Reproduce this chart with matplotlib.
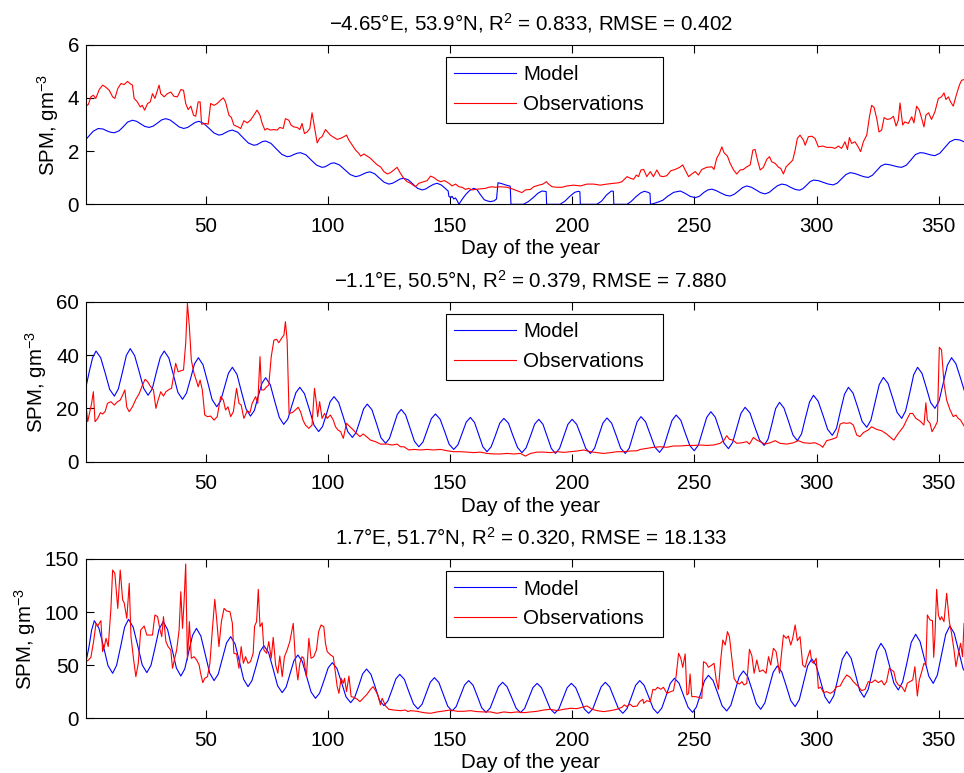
import matplotlib
matplotlib.use("Agg")
import matplotlib.pyplot as plt

plt.rcParams["font.family"] = ["Liberation Sans", "DejaVu Sans"]
plt.rcParams["mathtext.fontset"] = "custom"
plt.rcParams["mathtext.rm"] = "Liberation Sans"
plt.rcParams["mathtext.it"] = "Liberation Sans:italic"
plt.rcParams["axes.unicode_minus"] = True

FS = 14.8

# ---------------- station 1 (-4.65E, 53.9N) ----------------
model1 = [(1,2.44),(2.5,2.6),(4,2.75),(6,2.85),(8,2.83),(9.3,2.77),(11,2.71),(12.6,2.69),(14.5,2.76),(16.3,2.92),(18,3.09),(20,3.16),(21.7,3.12),(23.4,3.02),(25,2.93),(26.8,2.89),(28.5,2.94),(30.2,3.05),(31.9,3.17),(33.6,3.22),(35.4,3.17),(37.3,3.04),(39.1,2.91),(41,2.85),(42.6,2.89),(44.1,2.98),(45.7,3.08),(47.2,3.12),(49.2,3.04),(51.3,2.86),(53.4,2.68),(55.4,2.6),(56.8,2.63),(58.2,2.7),(59.5,2.76),(60.9,2.79),(63.1,2.71),(65.3,2.5),(67.5,2.3),(69.7,2.22),(70.9,2.24),(72.1,2.3),(73.3,2.36),(74.5,2.38),(76.7,2.29),(78.9,2.08),(81.1,1.88),(83.3,1.79),(84.7,1.81),(86,1.87),(87.4,1.92),(88.8,1.94),(91,1.86),(93.2,1.66),(95.4,1.47),(97.6,1.39),(98.8,1.41),(100,1.47),(101.3,1.54),(102.5,1.56),(104.7,1.48),(106.9,1.3),(109.1,1.12),(111.3,1.04),(112.8,1.07),(114.2,1.13),(115.7,1.19),(117.2,1.22),(119.1,1.15),(121,0.99),(123,0.83),(124.9,0.76),(126.4,0.79),(128,0.87),(129.5,0.95),(131,0.98),(132.9,0.92),(134.8,0.76),(136.7,0.6),(138.6,0.54),(140.1,0.58),(141.6,0.67),(143.2,0.75),(144.7,0.79),(146.5,0.72),(148,0.6),(149.2,0.5),(149.5,0.3),(150.2,0.25),(150.8,0.3),(151.5,0.2),(152.2,0.24),(153,0.12),(153.6,0.0),(155,0.2),(156.5,0.38),(158,0.52),(159.7,0.6),(161,0.55),(162.5,0.35),(164,0.17),(165.5,0.12),(166.5,0.1),(168,0.13),(169,0.2),(169.6,0.81),(171,0.78),(173,0.72),(174.6,0.68),(174.9,0.0),(180,0.0),(182,0.1),(184,0.25),(186,0.42),(187.6,0.5),(189.3,0.48),(189.5,0.0),(195,0.0),(197,0.12),(199,0.3),(201,0.45),(202.5,0.49),(203.1,0.47),(203.3,0.0),(210,0.0),(212,0.12),(214,0.35),(216,0.5),(216.8,0.49),(217,0.0),(222.4,0.0),(224,0.1),(226,0.28),(228,0.43),(229.5,0.49),(231,0.45),(231.8,0.41),(232,0.0),(233,0.02),(235,0.08),(237,0.15),(239,0.3),(241.5,0.45),(244.2,0.5),(246,0.42),(248.2,0.3),(250.3,0.25),(252,0.3),(253.9,0.45),(255.5,0.54),(257.1,0.57),(259,0.51),(260.9,0.42),(262.8,0.34),(264.6,0.31),(266.3,0.38),(268,0.5),(269.7,0.63),(271.4,0.69),(273.3,0.64),(275.2,0.54),(277,0.44),(278.9,0.39),(280.6,0.45),(282.3,0.58),(284,0.7),(285.7,0.76),(287.5,0.73),(289.3,0.64),(291.2,0.56),(293,0.53),(294.4,0.59),(295.9,0.72),(297.3,0.85),(298.7,0.91),(300.7,0.89),(302.8,0.82),(304.8,0.76),(306.8,0.73),(308.5,0.8),(310.2,0.96),(312,1.12),(313.7,1.19),(315.5,1.16),(317.4,1.1),(319.2,1.04),(321.1,1.01),(322.8,1.09),(324.5,1.26),(326.3,1.44),(328,1.51),(329.7,1.49),(331.4,1.45),(333.1,1.41),(334.8,1.39),(336.7,1.47),(338.6,1.67),(340.4,1.87),(342.3,1.94),(343.8,1.93),(345.4,1.89),(346.9,1.85),(348.4,1.83),(350.4,1.92),(352.5,2.14),(354.5,2.35),(356.6,2.44),(358.5,2.42),(360.3,2.35),(362,2.3),(365,2.36)]

obs1 = [(1,3.69),(2,3.76),(3,4.04),(4,4.1),(5,3.98),(6.4,4.31),(7.8,4.48),(9,4.41),(10.5,4.29),(11.9,4.04),(12.8,3.98),(14,4.35),(15.3,4.54),(16.6,4.5),(18,4.62),(19,4.54),(20,4.48),(20.7,3.98),(22,3.85),(23.2,3.66),(24,3.72),(25,3.54),(26.2,3.79),(27.3,3.85),(28.2,4.16),(29.2,3.98),(30,4.22),(30.9,4.48),(31.6,4.16),(33,4.04),(34.3,4.16),(35.7,4.22),(37,4.06),(38.4,4.04),(39.8,4.31),(40.9,4.29),(41.8,3.79),(42.8,3.56),(43.9,3.69),(45,3.35),(45.9,3.31),(46.9,3.85),(47.7,3.85),(48.3,3.01),(50,3.04),(51,3.01),(52,3.79),(53.4,3.72),(54.7,3.79),(56,3.91),(57.2,4.0),(58.1,3.85),(59.5,3.35),(60.5,3.26),(61.5,2.98),(63.2,2.91),(64.3,2.85),(65.6,3.14),(67,3.06),(68.3,3.16),(69.7,3.35),(71,3.54),(72.2,3.35),(73.1,3.04),(74.2,2.79),(75.1,2.85),(76.5,2.79),(77.9,2.81),(79.2,2.79),(80.3,2.89),(81.7,2.85),(82.6,3.22),(84,3.16),(84.9,2.98),(86,2.91),(87.4,2.89),(88.5,2.81),(89.4,3.04),(90.4,2.66),(91.5,2.72),(92.6,2.85),(93.5,3.44),(94.5,2.91),(95.6,2.31),(96.6,2.48),(97.6,2.54),(99,2.81),(101,2.6),(102.5,2.51),(103.8,2.44),(105.2,2.48),(106.5,2.54),(107.6,2.6),(108.6,2.41),(110,2.22),(111.3,2.04),(112.7,1.91),(113.4,1.81),(114.7,1.89),(116.1,1.81),(117.4,1.73),(118.8,1.6),(120.2,1.48),(121.5,1.41),(122.9,1.23),(124.3,1.14),(125.6,1.19),(127,1.29),(128.3,1.39),(129.7,1.16),(131,0.98),(132.4,0.85),(133.8,0.79),(135.8,0.66),(137.2,0.79),(139.2,0.85),(140.6,0.89),(142,1.06),(143.3,1.01),(144.7,0.91),(146.1,0.85),(147.7,0.89),(149.5,0.79),(150.8,0.69),(152.2,0.76),(153.6,0.66),(154.9,0.64),(156.3,0.56),(157.6,0.6),(159,0.54),(160.4,0.56),(162.4,0.58),(164.5,0.6),(165.8,0.64),(167.2,0.66),(168.5,0.64),(170.6,0.66),(173.3,0.64),(175.4,0.58),(177.4,0.51),(179.4,0.44),(180.8,0.54),(182.9,0.56),(184.2,0.66),(186.3,0.72),(188,0.76),(189.4,0.85),(190.3,0.76),(191.7,0.66),(193.8,0.64),(195.8,0.64),(197.8,0.69),(200.6,0.72),(203.3,0.69),(206,0.76),(208.7,0.76),(211.5,0.72),(214.2,0.76),(216.9,0.79),(219,0.81),(220.3,0.85),(221.3,0.94),(222.4,1.04),(223.7,0.98),(225.1,0.94),(226.2,1.1),(227.1,1.04),(228.1,1.29),(229.2,1.31),(230.5,1.04),(231.9,1.23),(233.2,1.04),(234.6,1.29),(236,1.06),(237.3,1.04),(238.7,1.08),(240.3,1.26),(242.1,1.31),(243.9,1.39),(245.2,1.48),(246.2,1.29),(247.6,1.04),(248.9,1.14),(250.3,1.23),(251.6,1.1),(253,1.31),(255,1.39),(257.1,1.41),(258,1.31),(259.1,1.73),(260.2,1.91),(261.2,2.16),(262.1,1.94),(263.5,1.81),(264.6,1.54),(266,1.29),(267.3,1.14),(268.7,1.29),(270,1.31),(271.4,1.41),(272.8,1.48),(273.9,2.04),(274.8,2.06),(275.8,1.66),(276.9,1.29),(278.2,1.39),(279.6,1.69),(280.7,1.79),(281.6,1.6),(283,1.54),(284.4,1.39),(285.3,1.35),(286.4,1.14),(287.5,1.41),(288.9,1.54),(290.2,1.66),(291.2,2.04),(292.1,2.48),(293.2,2.6),(294.6,2.41),(295.3,2.22),(296.6,2.54),(298,2.56),(299.3,2.48),(300.7,2.16),(302.5,2.19),(304.1,2.14),(306.2,2.14),(307.5,2.1),(308.9,2.19),(310.2,2.1),(311.6,2.35),(312.6,2.06),(313.4,2.51),(314.3,2.29),(315.7,2.35),(317.1,2.14),(318,1.98),(319.1,2.35),(320.5,2.6),(321.6,3.29),(322.5,3.72),(323.5,3.64),(324.6,3.22),(325.5,2.72),(326.6,2.79),(327.6,3.26),(328.9,3.19),(330.3,3.22),(331.4,3.31),(332.5,2.94),(333.4,3.16),(334.1,3.81),(335.2,2.98),(336.1,3.1),(337.5,3.04),(338.9,3.29),(339.8,3.06),(340.9,3.69),(342,3.54),(343,3.22),(343.9,2.91),(344.7,3.35),(345.8,3.44),(347,3.19),(348.4,3.48),(349.8,3.98),(351.1,4.04),(352.1,4.19),(352.9,3.94),(353.9,4.04),(354.8,3.85),(355.9,3.69),(357,4.06),(358.4,4.48),(359.3,4.66),(360.3,4.69),(362,4.7),(365,4.75)]

# ---------------- station 2 (-1.1E, 50.5N) ----------------
model2 = [(1,28.1),(2.4,34),(3.7,39),(5.1,41.5),(7,39),(8.9,33.1),(10.7,27.1),(12.6,24.6),(14.2,27.2),(15.9,33.5),(17.5,39.8),(19.1,42.4),(20.9,39.8),(22.8,33.65),(24.6,27.5),(26.4,24.9),(28.1,27.3),(29.7,33.2),(31.4,39.1),(33,41.5),(34.9,38.9),(36.8,32.45),(38.6,26),(40.5,23.4),(42.1,25.7),(43.8,31.2),(45.4,36.7),(47,39),(48.9,36.3),(50.8,29.8),(52.6,23.3),(54.5,20.6),(56.1,22.8),(57.7,28),(59.3,33.2),(60.9,35.4),(62.8,32.7),(64.6,26.25),(66.5,19.8),(68.3,17.1),(69.9,19.2),(71.4,24.3),(73,29.4),(74.5,31.5),(76.4,28.9),(78.2,22.75),(80.1,16.6),(81.9,14),(83.6,16),(85.2,20.95),(86.9,25.9),(88.5,27.9),(90.4,25.5),(92.4,19.6),(94.3,13.7),(96.2,11.3),(97.8,13.2),(99.4,17.85),(100.9,22.5),(102.5,24.4),(104.4,22.2),(106.3,16.75),(108.1,11.3),(110,9.1),(111.5,10.9),(113.1,15.35),(114.6,19.8),(116.1,21.6),(118,19.5),(119.9,14.25),(121.7,9),(123.6,6.9),(125.2,8.75),(126.8,13.25),(128.4,17.75),(130,19.6),(131.8,17.55),(133.6,12.6),(135.4,7.65),(137.2,5.6),(138.9,7.4),(140.6,11.75),(142.3,16.1),(144,17.9),(145.9,15.95),(147.8,11.25),(149.6,6.55),(151.5,4.6),(153.2,6.35),(154.9,10.6),(156.6,14.85),(158.3,16.6),(160,14.7),(161.7,10.2),(163.4,5.6),(165.1,3.75),(166.8,5.6),(168.6,10),(170.3,14.4),(172,16.25),(173.9,14.4),(175.7,9.8),(177.6,5.3),(179.4,3.4),(181.1,5.2),(182.9,9.65),(184.6,14.1),(186.3,15.9),(188,14),(189.7,9.5),(191.4,5),(193.1,3.1),(194.8,5),(196.5,9.5),(198.2,14),(199.9,15.9),(201.8,14),(203.7,9.5),(205.5,5),(207.4,3.1),(209.1,5.05),(210.8,9.75),(212.5,14.45),(214.2,16.4),(216.1,14.45),(218,9.75),(219.8,5.05),(221.7,3.1),(223.3,5.1),(224.9,10),(226.5,14.9),(228.1,16.9),(230,14.95),(231.9,10.2),(233.8,5.45),(235.7,3.5),(237.4,5.55),(239.1,10.5),(240.8,15.45),(242.5,17.5),(244.4,15.55),(246.2,10.8),(248.1,6.05),(249.9,4.1),(251.6,6.25),(253.3,11.4),(255,16.6),(256.7,18.75),(258.5,16.7),(260.3,11.8),(262.1,6.9),(263.9,4.9),(265.6,7.2),(267.3,12.65),(269,18.1),(270.7,20.4),(272.7,18.3),(274.6,13.25),(276.6,8.2),(278.5,6.1),(280.1,8.45),(281.7,14.2),(283.2,19.9),(284.8,22.25),(286.6,20.15),(288.5,15.1),(290.3,10),(292.1,7.9),(293.8,10.4),(295.4,16.4),(297.1,22.4),(298.7,24.9),(300.6,22.7),(302.6,17.4),(304.5,12.1),(306.4,9.9),(308.1,12.5),(309.7,18.9),(311.4,25.3),(313,27.9),(314.9,25.7),(316.8,20.4),(318.6,15.1),(320.5,12.9),(322.2,15.6),(323.9,22.25),(325.6,28.9),(327.3,31.6),(329.2,29.35),(331.1,23.9),(332.9,18.5),(334.8,16.25),(336.4,19.05),(338.1,25.8),(339.7,32.6),(341.3,35.4),(343.1,33.15),(344.9,27.7),(346.6,22.25),(348.4,20),(350.1,22.8),(351.8,29.5),(353.5,36.2),(355.2,39),(357,36.7),(358.9,31.25),(360.7,25.8),(362.5,23.5),(365,26)]

obs2 = [(1,21.25),(1.7,15),(2.4,18),(3.3,21.9),(4,26.25),(4.7,15),(5.8,16.25),(6.9,18.4),(7.8,17.9),(8.8,18.75),(9.8,21.9),(11.2,22.5),(12.6,21.25),(13.9,22.5),(15,23.1),(16,25),(16.9,26.9),(17.7,20.4),(18.7,18.75),(20,20.6),(21.4,23.4),(22.8,25.6),(24.1,28.75),(25.2,30.9),(26.2,30),(27.5,28.1),(28.6,26.9),(29.6,20),(30.5,23.1),(31.6,26.25),(32.7,24.6),(33.7,26.25),(35,27.1),(36,27.5),(36.8,31.9),(37.7,36.9),(38.7,33.75),(39.8,34.1),(40.9,34.4),(41.8,44.4),(42.5,59.4),(43.3,50.6),(44.1,38.1),(45.2,33.1),(46.3,30),(46.9,28.1),(47.7,30.6),(48.6,26.9),(49.6,17.5),(50.7,16.9),(52,17.1),(53.4,15.6),(54.7,16.9),(56.1,24.4),(57.2,23.1),(58.1,19.4),(59.1,20.6),(60.2,16.9),(61.3,18.75),(62.6,27.5),(63.6,21.9),(64.5,21.25),(65.6,16.25),(67,19.1),(68.1,18.4),(69,21.9),(70.4,24.4),(71.3,21.9),(72.2,39.4),(72.8,26.9),(73.8,26.9),(74.9,28.1),(75.8,28.75),(76.8,39.4),(77.9,45.6),(79,45.9),(79.9,44.6),(81,46.25),(82,47.5),(82.6,52.5),(83.3,45.6),(84.1,18.1),(85.4,18.4),(86.7,19.4),(87.8,20.4),(88.8,18.75),(89.8,15.6),(90.8,13.75),(92.2,12.5),(93.5,13.75),(94.5,27.5),(95.3,21.9),(95.8,16.9),(96.6,22.5),(97.6,16.25),(98.6,18.1),(99.7,16.25),(101,17.5),(102.2,15.6),(103.1,13.1),(104.1,11.9),(105.2,11.25),(106.3,8.75),(107.6,14.4),(109,13.1),(110.4,11.9),(111.7,10.6),(113.1,9.4),(114.4,10.4),(115.8,9.4),(117.4,8.1),(119.5,7.5),(121.5,6.6),(124.3,6.6),(126.3,6.25),(128.3,6.6),(129.7,5.6),(131.1,5.6),(133.1,4.4),(135.2,4.6),(137.9,4.4),(140.6,4.6),(143.3,4.4),(146.1,4.6),(148.8,4.1),(151.5,3.75),(154.2,3.75),(157,3.6),(159.7,3.4),(162.4,3.6),(165.1,3.1),(167.9,2.9),(170.6,2.9),(173.3,3.1),(176,2.9),(178.8,3.1),(180.8,2.1),(182.9,3.1),(185.6,3.6),(188.3,3.6),(191,3.4),(193.8,3.75),(196.5,3.5),(199.2,3.75),(201.9,4),(204.7,4.4),(207.4,3.75),(210.1,3.4),(212.8,3.1),(215.6,3.4),(218.3,3.75),(221,3.75),(223.7,4),(226.5,4.1),(227.8,4.6),(230.5,5),(233.2,5.4),(236,5.6),(238.7,5.4),(241.4,5.9),(244.2,5.9),(246.9,6.1),(249.6,6.1),(252.3,6.25),(255,6.1),(257.8,6.25),(260.5,6.9),(262.1,8.1),(263.2,9.75),(264.3,8.4),(265.7,8.1),(267.3,6.9),(269.4,7.1),(271.4,7.5),(272.5,6.6),(274.1,9.1),(275.5,8.1),(276.9,7.5),(278.9,6.6),(281,7.1),(283,7.9),(285,6.9),(287.8,6.6),(290.5,7.1),(292.5,7.9),(294.6,7.1),(297.3,6.9),(299.3,7.1),(301.4,6.25),(302.5,5.4),(304.1,7.9),(306.2,8.4),(308.2,9.1),(309.6,14.1),(310.9,14.6),(312.3,14.4),(313.7,14.6),(315,13.75),(316.4,10),(317.7,9.4),(319.1,10.9),(321.1,11.9),(322.5,13.1),(324.6,12.1),(326.6,11.6),(328.6,10.4),(330.7,8.75),(331.6,8.1),(333.4,10.6),(335.5,13.1),(336.8,15.6),(338.2,18.1),(339.3,18.1),(340.6,16.25),(342.3,15.25),(343.9,13.75),(344.7,22.1),(345.3,15.6),(346.4,14.4),(347.2,11.25),(348.4,13.1),(349.4,15),(350.2,42.9),(351.1,41.9),(352.1,29.4),(353.2,23.1),(354.5,19.6),(355.9,16.9),(357,17.5),(357.9,16.25),(358.9,15.6),(360.3,13.4),(362,12.5),(365,12)]

# ---------------- station 3 (1.7E, 51.7N) ----------------
model3 = [(1,53.3),(2.2,67),(3.3,83),(4.4,91.9),(6.3,84.7),(8.2,67.15),(10,49.6),(11.9,42.4),(13.5,49.8),(15.2,67.8),(16.8,85.8),(18.4,93.2),(20.3,85.9),(22.2,68.1),(24,50.3),(25.9,43),(27.6,50),(29.3,67),(30.9,84),(32.6,91),(34.4,83.5),(36.2,65.4),(38,47.3),(39.8,39.8),(41.4,46.4),(43,62.25),(44.6,78.1),(46.2,84.7),(48,77.5),(49.8,60.1),(51.6,42.7),(53.4,35.5),(55.1,41.5),(56.8,56.2),(58.5,70.9),(60.2,76.9),(62,70),(63.8,53.35),(65.5,36.7),(67.3,29.8),(68.9,35.4),(70.6,49.1),(72.2,62.8),(73.8,68.4),(75.7,62),(77.6,46.3),(79.4,30.6),(81.3,24.2),(82.9,29.4),(84.5,41.9),(86.1,54.4),(87.7,59.6),(89.5,53.6),(91.3,39.2),(93.1,24.8),(94.9,18.8),(96.6,23.7),(98.4,35.6),(100.1,47.5),(101.8,52.4),(103.7,46.9),(105.6,33.55),(107.4,20.2),(109.3,14.7),(110.9,19.3),(112.6,30.55),(114.2,41.8),(115.8,46.4),(117.6,41.4),(119.4,29.15),(121.1,16.9),(122.9,11.9),(124.5,16.2),(126.2,26.65),(127.8,37.1),(129.4,41.4),(131.3,36.6),(133.1,25.1),(135,13.6),(136.8,8.8),(138.5,13.1),(140.2,23.55),(141.9,34),(143.6,38.3),(145.4,33.7),(147.2,22.6),(149,11.5),(150.8,6.9),(152.5,11.1),(154.2,21.2),(155.9,31.3),(157.6,35.5),(159.4,31.1),(161.2,20.55),(162.9,10),(164.7,5.6),(166.4,9.7),(168.1,19.75),(169.8,29.8),(171.5,33.9),(173.3,29.7),(175.2,19.6),(177,9.5),(178.8,5.3),(180.5,9.35),(182.2,19.1),(183.9,28.9),(185.6,32.9),(187.4,28.8),(189.2,18.8),(191,8.8),(192.8,4.7),(194.5,8.8),(196.2,18.8),(197.9,28.8),(199.6,32.9),(201.4,28.8),(203.2,18.8),(204.9,8.8),(206.7,4.7),(208.4,9),(210.1,19.3),(211.8,29.6),(213.5,33.9),(215.3,29.6),(217.1,19.3),(218.9,9),(220.7,4.7),(222.4,9.2),(224.2,20.1),(225.9,31),(227.6,35.5),(229.4,31),(231.3,20.1),(233.1,9.2),(234.9,4.7),(236.6,9.5),(238.4,21.2),(240.1,32.9),(241.8,37.7),(243.7,33),(245.5,21.65),(247.4,10.3),(249.2,5.6),(250.8,10.7),(252.5,23.05),(254.1,35.4),(255.7,40.5),(257.6,35.6),(259.5,23.7),(261.3,11.8),(263.2,6.9),(264.9,12.4),(266.6,25.75),(268.3,39.1),(270,44.6),(271.8,39.3),(273.6,26.55),(275.3,13.8),(277.1,8.5),(278.8,14.5),(280.5,28.9),(282.2,43.3),(283.9,49.3),(285.7,43.7),(287.6,30.15),(289.4,16.6),(291.2,11),(292.9,17.6),(294.6,33.45),(296.3,49.3),(298,55.9),(299.8,49.8),(301.6,35),(303.4,20.2),(305.2,14.1),(307,21.2),(308.8,38.45),(310.5,55.7),(312.3,62.8),(314.1,56.5),(315.9,41.3),(317.6,26.1),(319.4,19.8),(321.1,27.2),(322.9,45.2),(324.6,63.2),(326.3,70.6),(328.1,64.2),(329.9,48.65),(331.6,33.1),(333.4,26.7),(335.2,34.35),(337,52.9),(338.7,71.45),(340.5,79.1),(342.3,72.35),(344.1,56),(345.9,39.65),(347.7,32.9),(349.4,40.8),(351.1,59.9),(352.8,79),(354.5,86.9),(356.3,80.05),(358.1,63.45),(359.9,46.85),(361.7,40),(363.5,46.9),(365,60)]

obs3 = [(1,53.3),(2,54.9),(3,57.4),(4.1,72.2),(5.1,89.4),(5.8,86.9),(6.4,89.4),(7.1,91.9),(7.8,62.8),(8.5,67.5),(9.2,75.3),(10.1,67.5),(11.2,103.5),(11.9,139.6),(12.8,136.5),(14,103.5),(15,139.6),(16,111.4),(16.6,108.9),(17.7,94.1),(18.7,127.1),(19.4,76.9),(20.5,54.9),(21.4,39.2),(22.4,51.8),(23.4,83.2),(24.8,86.9),(25.9,78.4),(27.3,78.4),(28.2,78.4),(29.2,97.3),(30.3,95.7),(31.3,83.2),(32,76.9),(32.7,95.7),(33.7,72.2),(34.6,67.5),(35.7,64.3),(36.4,47.1),(37.3,56.5),(38.1,64.3),(39.1,83.2),(39.8,119.2),(40.5,84.7),(41.1,108.3),(41.8,145.3),(42.5,54.9),(43.3,91),(44.1,56.5),(45.2,58),(46.3,54.9),(47.3,50.2),(47.9,42.4),(48.8,33.6),(49.6,37.7),(50.7,39.2),(51.7,51.8),(52.7,83.2),(53.7,112),(54.5,92.6),(55.4,67.5),(56.4,91),(57.5,103.5),(58.6,101),(59.9,100.4),(60.9,89.4),(61.5,61.2),(62.6,60.6),(63.6,47.1),(64.5,67.5),(65.4,51.8),(66.3,58),(67.3,51.8),(68.3,53.3),(69.4,61.2),(70,86.9),(70.8,91),(71.5,121.4),(72.2,86.3),(73.1,90),(73.8,64.3),(74.9,61.2),(75.8,72.2),(76.8,56.5),(77.6,76.2),(78.6,50.2),(79.5,42.4),(80.3,58.7),(81.3,39.2),(82.2,58),(83.3,64.3),(84.4,72.2),(85.8,89.4),(86.7,54.9),(87.7,36.1),(88.5,51.8),(89.4,58),(90.1,56.5),(91.2,39.2),(92.2,75.3),(93.1,56.5),(94.2,58),(95.3,64.3),(96.2,81.6),(97.2,87.9),(98.3,86.3),(99,70.6),(99.7,62.8),(101.1,59.6),(102.2,58),(103.1,42.4),(103.8,29.8),(104.5,23.5),(105.4,37.7),(106.3,33),(106.8,37.7),(107.6,25.1),(108.6,39.8),(109.5,20.4),(110.6,19.8),(112,17.9),(113.1,15.7),(114.4,18.8),(116.1,22.9),(117.4,27.3),(118.5,29.8),(119.5,26),(120.4,22),(121.5,12.6),(122.2,18.8),(123.6,11.6),(124.9,8.5),(127,7.8),(129.7,7.2),(131.8,7.8),(132.7,6.3),(133.8,7.2),(136.5,6.6),(139.2,5.3),(142,4.7),(144.7,6),(147.4,6.9),(150.1,7.8),(152.9,6.6),(155.6,6.6),(158.3,7.2),(161,6.3),(163.8,6),(166.5,6),(169.2,4.7),(172,6),(174.7,5.3),(177.4,6),(180.1,5.3),(182.9,6),(185.6,6.6),(188.3,7.8),(191,8.5),(193.8,7.2),(196.5,8.5),(199.2,9.4),(201.9,9.1),(204,10.4),(206,11.6),(208.1,8.5),(210.1,7.2),(212.8,6.3),(215.6,7.2),(218.3,8.5),(220.3,10.4),(221.3,12.6),(222.4,11),(223.5,13.5),(224.8,11),(226.5,11.6),(227.6,15.7),(228.9,17.9),(229.2,14.1),(230.5,16.6),(231.9,15.7),(233,27.3),(233.9,26.7),(234.9,29.2),(236.2,27.3),(237.3,29.2),(238.7,23.5),(240.3,25.1),(241.4,26),(242.5,39.8),(243.5,61.2),(244.4,56.5),(245.2,48),(246.2,60.6),(246.9,22),(247.6,23.5),(248.2,41.7),(248.9,20.4),(250.3,20.4),(251.6,19.8),(253,18.8),(253.7,53.3),(254.8,51.8),(255.7,48),(257.1,50.2),(258,51.8),(258.9,36.1),(259.8,27.3),(260.8,56.5),(261.6,73.7),(262.6,69),(263.5,81.6),(264.3,76.9),(265.3,56.5),(266.2,37.7),(267.3,33.6),(268.4,32.3),(269.4,34.5),(270.3,31.4),(271.4,32.9),(272.5,65),(273.5,58.7),(274.4,42.4),(275.5,54.9),(276.6,43.9),(278,45.5),(279.3,42.4),(280.3,58),(281.2,50.2),(282.3,65.9),(283.4,62.8),(284.8,42.4),(285.7,62.8),(286.4,78.4),(287.5,75.3),(288.4,77.5),(289.4,69),(290.2,75.3),(291.2,87.9),(292.1,73.1),(293.2,76.9),(294.3,50.2),(295.3,48),(296.2,56.5),(297.3,64.3),(298,53.3),(298.7,51.8),(299.8,56.5),(300.7,28.2),(301.7,29.2),(302.8,24.2),(304.1,25.1),(305.5,23.5),(306.8,25.1),(308.2,29.8),(309.6,30.4),(310.9,36.1),(312.3,40.8),(313.7,38.6),(315,34.5),(317.1,29.8),(318.4,26),(319.8,27.3),(321.1,34.5),(322.5,33.6),(323.9,36.1),(325.2,33.6),(326.6,35.5),(327.6,31.4),(328.6,34.5),(329.7,47.1),(330.7,45.5),(331.6,43.9),(332.5,34.5),(333.4,31.4),(334.8,29.8),(336.1,25.1),(337.1,33),(338.2,34.5),(339.3,36.1),(340.2,48.6),(341.2,21),(342,36.1),(343,43.9),(343.9,51.8),(344.7,50.2),(345.3,97.3),(346.4,92.6),(347.4,91.9),(347.9,57.4),(348.4,76.9),(349.1,121.4),(349.8,97.3),(350.5,92.6),(351.1,95.7),(352.1,91),(353.2,117.7),(354.3,91),(355.2,80),(356.2,64.3),(357,48.6),(357.9,59.6),(358.9,70.6),(359.7,58),(360.3,89.4),(362,80),(365,75)]

titles = [
    "\u22124.65\u00b0E, 53.9\u00b0N, R$^2$ = 0.833, RMSE = 0.402",
    "\u22121.1\u00b0E, 50.5\u00b0N, R$^2$ = 0.379, RMSE = 7.880",
    "1.7\u00b0E, 51.7\u00b0N, R$^2$ = 0.320, RMSE = 18.133",
]
ylims = [(0, 6), (0, 60), (0, 150)]
yticks = [[0, 2, 4, 6], [0, 20, 40, 60], [0, 50, 100, 150]]
xticks = [50, 100, 150, 200, 250, 300, 350]
series = [(model1, obs1), (model2, obs2), (model3, obs3)]

W, H = 964, 773
fig = plt.figure(figsize=(W / 100, H / 100), dpi=100)

# axes boxes in pixels: (left, top, right, bottom); the right edge runs past the canvas
boxes = [(86, 44.7, 975.5, 204.3), (86, 301.7, 975.5, 461.7), (86, 559.0, 975.5, 718.3)]

for i, (box, (mod, obs)) in enumerate(zip(boxes, series)):
    l, t, r, b = box
    ax = fig.add_axes([l / W, 1 - b / H, (r - l) / W, (b - t) / H])
    md, mv = zip(*mod)
    od, ov = zip(*obs)
    ax.plot(md, mv, color=(0, 0, 1), lw=0.8, label="Model")
    ax.plot(od, ov, color=(1, 0, 0), lw=0.8, label="Observations")
    ax.set_xlim(1, 365)
    ax.set_ylim(*ylims[i])
    ax.set_xticks(xticks)
    ax.set_yticks(yticks[i])
    ax.tick_params(direction="in", length=5.5, width=0.8, top=True, right=True,
                   labelsize=FS, colors="black")
    ax.tick_params(axis="x", pad=9)
    ax.tick_params(axis="y", pad=5)
    for s in ax.spines.values():
        s.set_linewidth(0.8)
    ax.set_title(titles[i], fontsize=FS, pad=10.5)
    ax.set_xlabel("Day of the year", fontsize=FS, va="top")
    ax.xaxis.set_label_coords(0.5, -0.218)
    ax.set_ylabel("SPM, gm$^{\u22123}$", fontsize=FS, labelpad=5)
    leg = ax.legend(loc="upper left", bbox_to_anchor=(0.4044, 0.5, 0.244, 0.425),
                    mode="expand", borderaxespad=0, fontsize=FS, frameon=True,
                    fancybox=False, framealpha=1, edgecolor="black",
                    handlelength=3.0, handletextpad=0.35, borderpad=0.42,
                    labelspacing=0.52)
    leg.get_frame().set_linewidth(0.8)

fig.savefig("out.png", dpi=100)
